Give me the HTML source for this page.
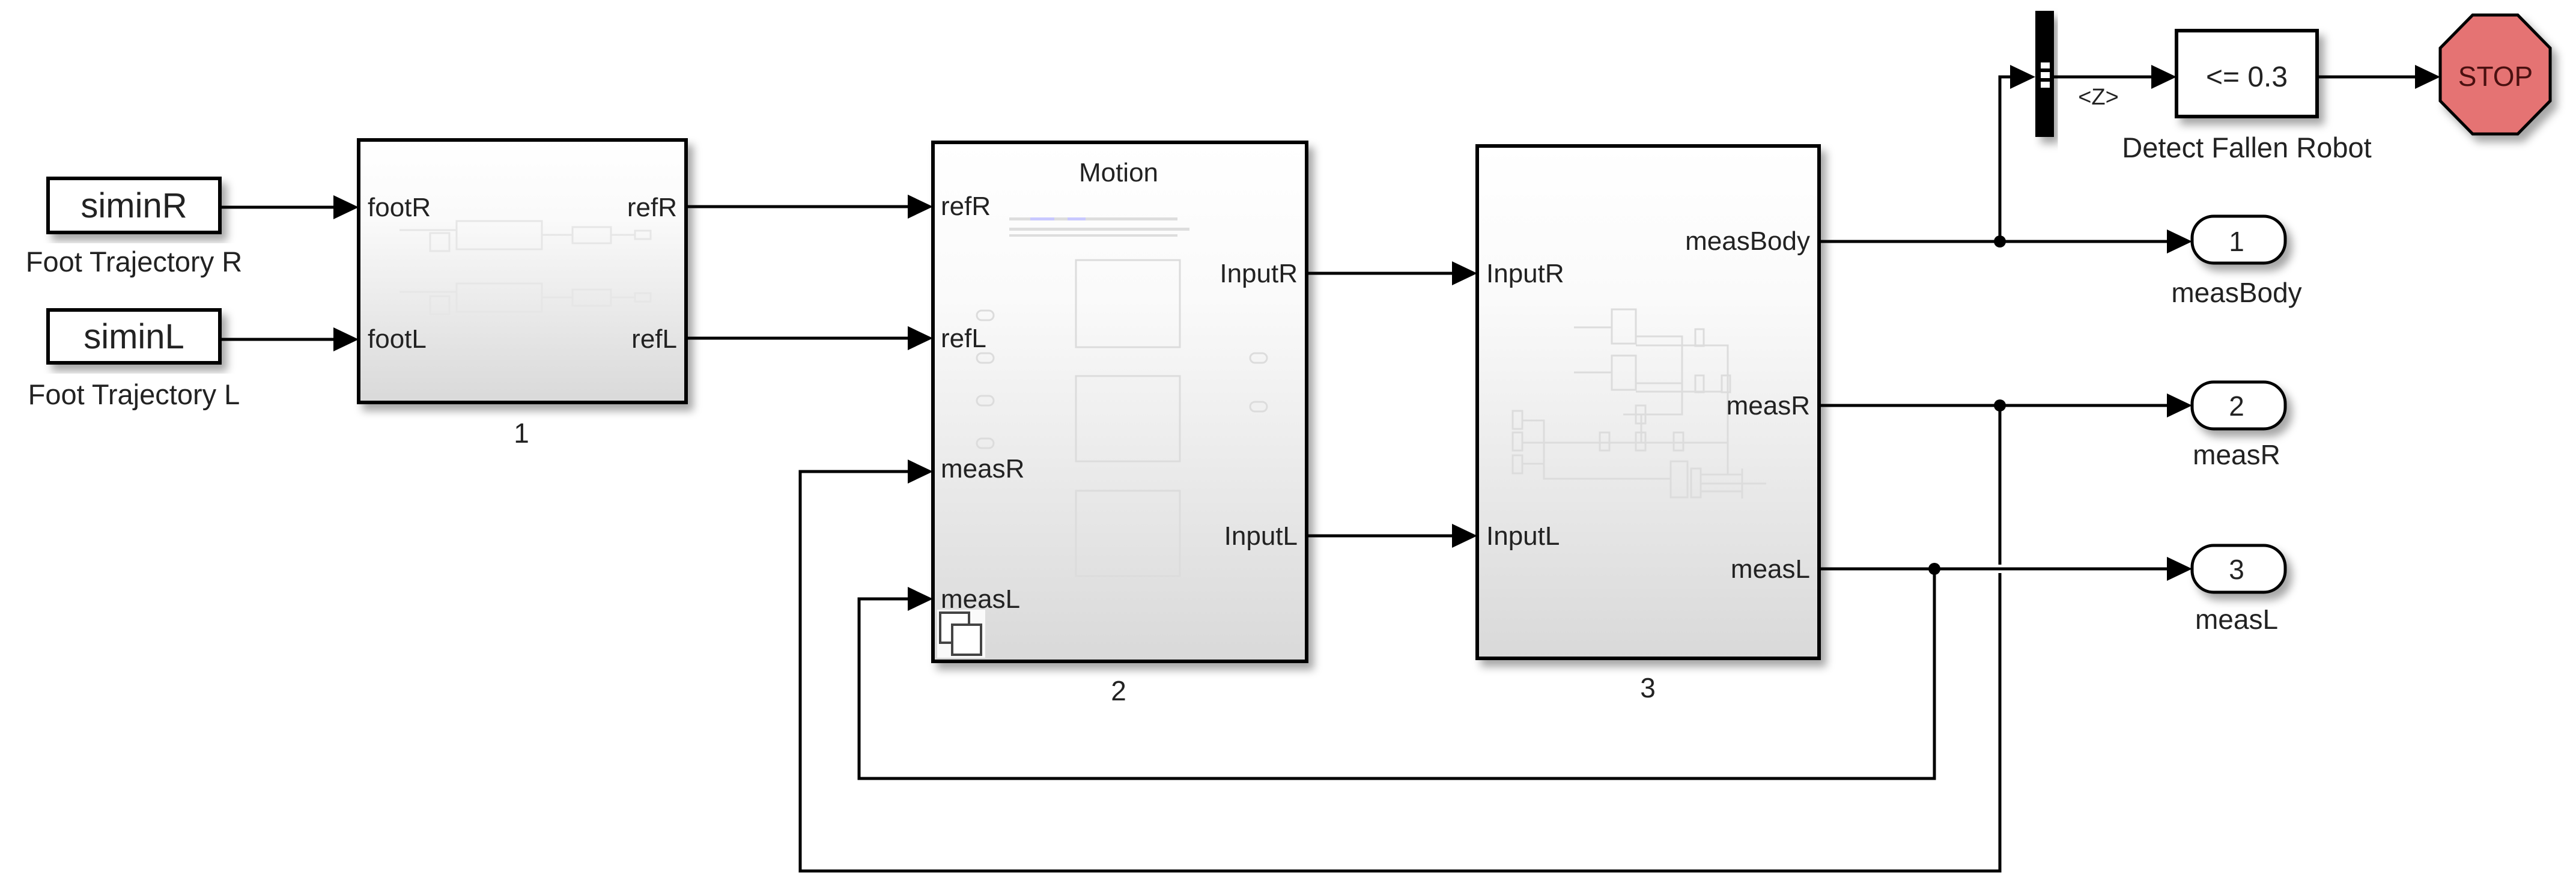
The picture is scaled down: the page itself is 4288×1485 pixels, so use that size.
<!DOCTYPE html>
<html><head><meta charset="utf-8"><style>
html,body{margin:0;padding:0;background:#fff;}
svg{display:block;}
text{font-family:"Liberation Sans",sans-serif;fill:#222;}
</style></head><body>
<svg width="4288" height="1485" viewBox="0 0 4288 1485" xmlns="http://www.w3.org/2000/svg">
<defs>
<filter id="sh" x="-10%" y="-10%" width="130%" height="130%"><feDropShadow dx="9" dy="11" stdDeviation="7" flood-color="#000" flood-opacity="0.35"/></filter>
<linearGradient id="g" x1="0" y1="0" x2="0" y2="1"><stop offset="0" stop-color="#ffffff"/><stop offset="0.3" stop-color="#fafafa"/><stop offset="1" stop-color="#d9d9d9"/></linearGradient>
</defs>

<!-- source blocks -->
<rect x="80" y="297" width="286" height="90" fill="#fff" stroke="#000" stroke-width="6" filter="url(#sh)"/>
<text x="223" y="362" font-size="58" text-anchor="middle">siminR</text>
<text x="223" y="452" font-size="47" text-anchor="middle">Foot Trajectory R</text>
<rect x="80" y="516" width="286" height="88" fill="#fff" stroke="#000" stroke-width="6" filter="url(#sh)"/>
<text x="223" y="580" font-size="58" text-anchor="middle">siminL</text>
<text x="223" y="673" font-size="47" text-anchor="middle">Foot Trajectory L</text>

<!-- block 1 -->
<rect x="597" y="233" width="545" height="437" fill="url(#g)" stroke="#000" stroke-width="6" filter="url(#sh)"/>
<g fill="none" stroke="#e6e6e6" stroke-width="3">
<rect x="760" y="368" width="142" height="47"/><rect x="716" y="388" width="32" height="30"/><rect x="953" y="378" width="64" height="27"/><rect x="1057" y="384" width="26" height="14"/>
<rect x="760" y="472" width="142" height="47"/><rect x="716" y="493" width="32" height="30"/><rect x="953" y="482" width="64" height="27"/><rect x="1057" y="488" width="26" height="14"/>
<path d="M665 383H760M902 391H953M1017 391H1057M665 486H760M902 495H953M1017 495H1057"/>
</g>
<text x="612" y="360" font-size="44">footR</text>
<text x="612" y="579" font-size="44">footL</text>
<text x="1127" y="360" font-size="44" text-anchor="end">refR</text>
<text x="1127" y="579" font-size="44" text-anchor="end">refL</text>
<text x="868" y="737" font-size="46" text-anchor="middle">1</text>

<!-- block 2 -->
<rect x="1553" y="237" width="622" height="864" fill="url(#g)" stroke="#000" stroke-width="6" filter="url(#sh)"/>
<text x="1862" y="302" font-size="44" text-anchor="middle">Motion</text>
<g fill="#ddd"><rect x="1680" y="362" width="280" height="5"/><rect x="1680" y="379" width="300" height="5"/><rect x="1680" y="390" width="280" height="4"/></g>
<rect x="1715" y="362" width="40" height="5" fill="#c8c8ff"/><rect x="1777" y="362" width="30" height="5" fill="#c8c8ff"/>
<g fill="none" stroke="#dcdcdc" stroke-width="3">
<rect x="1791" y="433" width="173" height="145"/><rect x="1791" y="626" width="173" height="142"/><rect x="1791" y="817" width="173" height="142"/>
<rect x="1626" y="517" width="28" height="16" rx="8"/><rect x="1626" y="588" width="28" height="16" rx="8"/><rect x="1626" y="659" width="28" height="16" rx="8"/><rect x="1626" y="730" width="28" height="16" rx="8"/>
<rect x="2081" y="588" width="28" height="16" rx="8"/><rect x="2081" y="669" width="28" height="16" rx="8"/>
</g>
<text x="1566" y="358" font-size="44">refR</text>
<text x="1566" y="578" font-size="44">refL</text>
<text x="1566" y="795" font-size="44">measR</text>
<text x="1566" y="1012" font-size="44">measL</text>
<text x="2160" y="470" font-size="44" text-anchor="end">InputR</text>
<text x="2160" y="907" font-size="44" text-anchor="end">InputL</text>
<rect x="1560" y="1015" width="80" height="80" fill="#fff" opacity="0.85"/>
<rect x="1565" y="1020" width="48" height="50" fill="#fff" stroke="#444" stroke-width="4"/>
<rect x="1585" y="1040" width="48" height="50" fill="#fff" stroke="#444" stroke-width="4"/>
<text x="1862" y="1166" font-size="46" text-anchor="middle">2</text>

<!-- block 3 -->
<rect x="2459" y="243" width="569" height="853" fill="url(#g)" stroke="#000" stroke-width="6" filter="url(#sh)"/>
<g fill="none" stroke="#dcdcdc" stroke-width="3">
<rect x="2683" y="515" width="40" height="57"/><rect x="2683" y="592" width="40" height="57"/>
<rect x="2822" y="548" width="14" height="28"/><rect x="2822" y="625" width="14" height="28"/><rect x="2866" y="625" width="14" height="28"/>
<rect x="2723" y="675" width="16" height="30"/><rect x="2663" y="720" width="16" height="30"/><rect x="2723" y="720" width="16" height="30"/><rect x="2786" y="720" width="16" height="30"/>
<rect x="2518" y="684" width="16" height="30"/><rect x="2518" y="720" width="16" height="30"/><rect x="2518" y="758" width="16" height="30"/>
<rect x="2781" y="768" width="28" height="60"/><rect x="2815" y="780" width="16" height="48"/>
<path d="M2620 545H2683M2620 620H2683M2723 560H2800V690H2732M2723 575H2876V790M2723 638H2800M2723 652H2866M2534 700H2570V797H2781M2534 737H2876M2534 772H2570M2702 690H2732V737M2831 790H2900M2831 805H2900M2831 818H2900M2900 780V830M2900 805H2940"/>
</g>
<text x="3013" y="416" font-size="44" text-anchor="end">measBody</text>
<text x="3013" y="690" font-size="44" text-anchor="end">measR</text>
<text x="3013" y="962" font-size="44" text-anchor="end">measL</text>
<text x="2474" y="470" font-size="44">InputR</text>
<text x="2474" y="907" font-size="44">InputL</text>
<text x="2743" y="1161" font-size="46" text-anchor="middle">3</text>

<!-- bus selector -->
<rect x="3388" y="18" width="31" height="210" fill="#000" filter="url(#sh)"/>
<rect x="3397" y="104" width="15" height="10" fill="#fff"/><rect x="3397" y="120" width="15" height="10" fill="#fff"/><rect x="3397" y="136" width="15" height="10" fill="#fff"/>
<text x="3493" y="174" font-size="38" text-anchor="middle">&lt;Z&gt;</text>

<!-- compare -->
<rect x="3623" y="51" width="234" height="143" fill="#fff" stroke="#000" stroke-width="6" filter="url(#sh)"/>
<text x="3740" y="144" font-size="48" text-anchor="middle">&lt;= 0.3</text>
<text x="3740" y="262" font-size="47" text-anchor="middle">Detect Fallen Robot</text>

<!-- stop -->
<polygon points="4116,25 4191,25 4245,80 4245,168 4191,223 4116,223 4062,168 4062,80" fill="#e57373" stroke="#000" stroke-width="5" filter="url(#sh)"/>
<text x="4154" y="143" font-size="46" text-anchor="middle" style="fill:#4a1010">STOP</text>

<!-- outports -->
<g fill="#fff" stroke="#000" stroke-width="5" filter="url(#sh)">
<rect x="3649" y="360" width="155" height="78" rx="36"/>
<rect x="3649" y="636" width="155" height="78" rx="36"/>
<rect x="3649" y="908" width="155" height="78" rx="36"/>
</g>
<text x="3723" y="418" font-size="46" text-anchor="middle">1</text>
<text x="3723" y="692" font-size="46" text-anchor="middle">2</text>
<text x="3723" y="964" font-size="46" text-anchor="middle">3</text>
<text x="3723" y="503" font-size="46" text-anchor="middle">measBody</text>
<text x="3723" y="773" font-size="46" text-anchor="middle">measR</text>
<text x="3723" y="1047" font-size="46" text-anchor="middle">measL</text>

<!-- connectors -->
<g fill="none" stroke="#000" stroke-width="5">
<path d="M366 345H560"/>
<path d="M366 565H560"/>
<path d="M1142 344H1516"/>
<path d="M1142 563H1516"/>
<path d="M2175 455H2422"/>
<path d="M2175 892H2422"/>
<path d="M3028 402H3612"/>
<path d="M3329 402V128H3352"/>
<path d="M3419 128H3586"/>
<path d="M3857 128H4025"/>
<path d="M3028 675H3612"/>
<path d="M3329 675V940M3329 954V1450H1332V785H1516"/>
<path d="M3028 947H3612"/>
<path d="M3220 947V1296H1430V997H1516"/>
</g>
<g fill="#000">
<polygon points="555,325 597,345 555,365"/>
<polygon points="555,545 597,565 555,585"/>
<polygon points="1511,324 1553,344 1511,364"/>
<polygon points="1511,543 1553,563 1511,583"/>
<polygon points="1511,765 1553,785 1511,805"/>
<polygon points="1511,977 1553,997 1511,1017"/>
<polygon points="2417,435 2459,455 2417,475"/>
<polygon points="2417,872 2459,892 2417,912"/>
<polygon points="3607,382 3649,402 3607,422"/>
<polygon points="3607,655 3649,675 3607,695"/>
<polygon points="3607,927 3649,947 3607,967"/>
<polygon points="3346,108 3388,128 3346,148"/>
<polygon points="3581,108 3623,128 3581,148"/>
<polygon points="4020,108 4062,128 4020,148"/>
<circle cx="3329" cy="402" r="10"/>
<circle cx="3329" cy="675" r="10"/>
<circle cx="3220" cy="947" r="10"/>
</g>
</svg>
</body></html>
